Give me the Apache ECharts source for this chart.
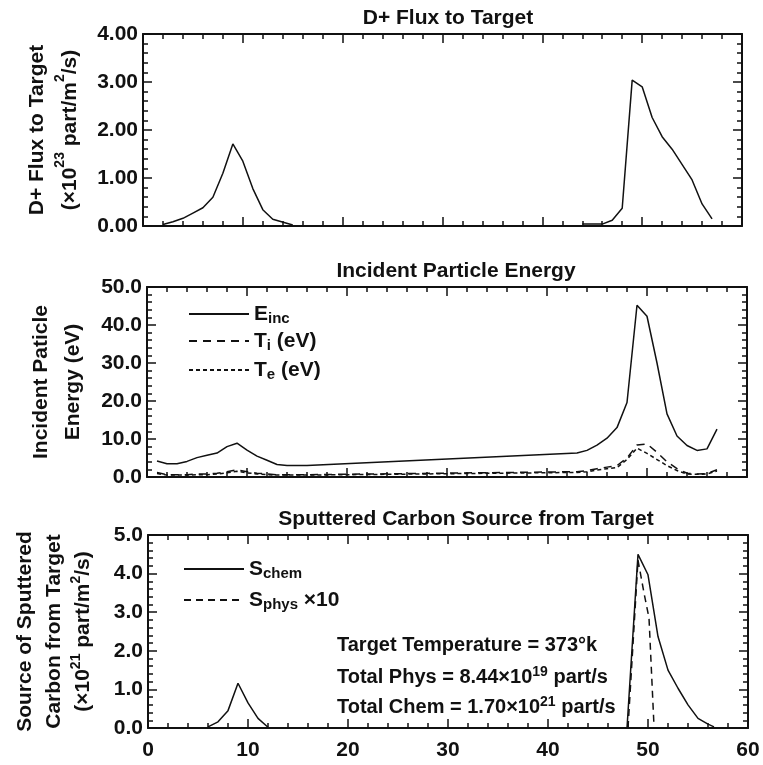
<!DOCTYPE html>
<html>
<head>
<meta charset="utf-8">
<script src="https://cdn.jsdelivr.net/npm/echarts@6/dist/echarts.min.js"></script>
<style>
  html, body { margin: 0; padding: 0; background: #fff; }
  #chart { width: 763px; height: 765px; }
</style>
</head>
<body>
<div id="chart"></div>
<script>
// panel 1: D+ flux (x10^23 part/m2/s), inner and outer target
var fluxInX = [2, 3, 4, 5, 6, 7, 8, 9, 10, 11, 12, 13, 15];
var fluxInY = [0.03, 0.09, 0.16, 0.27, 0.38, 0.6, 1.1, 1.71, 1.35, 0.78, 0.34, 0.14, 0.02];
var fluxOutX = [44, 45, 46, 47, 48, 49, 50, 51, 52, 53, 55, 56, 57];
var fluxOutY = [0.04, 0.04, 0.04, 0.12, 0.37, 3.04, 2.9, 2.26, 1.86, 1.6, 0.96, 0.46, 0.15];

// panel 2: incident energy (eV)
var energyX = [1, 2, 3, 4, 5, 6, 7, 8, 9, 10, 11, 12, 13, 14, 16, 43, 44, 45, 46, 47, 48, 49, 50, 51, 52, 53, 54, 55, 56, 57];
var eInc = [4.2, 3.5, 3.5, 4.1, 5.1, 5.7, 6.3, 8.0, 8.9, 7.1, 5.5, 4.4, 3.3, 3.0, 3.0, 6.3, 7.0, 8.4, 10.2, 13.0, 19.6, 45.2, 42.3, 30.0, 16.6, 10.8, 8.3, 7.0, 7.4, 12.6];
var tIon = [1.2, 0.6, 0.6, 0.6, 0.8, 0.8, 1.0, 1.4, 1.9, 1.4, 1.0, 0.8, 0.6, 0.6, 0.6, 1.4, 1.7, 2.2, 2.6, 3.0, 5.0, 8.4, 8.7, 6.5, 4.0, 2.2, 1.0, 0.8, 0.9, 1.9];
var tEl = [0.9, 0.5, 0.5, 0.5, 0.6, 0.6, 0.8, 1.1, 1.5, 1.1, 0.8, 0.6, 0.5, 0.5, 0.5, 1.2, 1.4, 1.8, 2.2, 2.5, 4.6, 7.6, 6.2, 4.6, 3.0, 1.7, 0.8, 0.7, 0.8, 1.6];

// panel 3: sputtered carbon source (x10^21 part/m2/s)
var chemInX = [6, 7, 8, 9, 10, 11, 12];
var chemInY = [0.03, 0.16, 0.45, 1.16, 0.65, 0.25, 0.02];
var chemOutX = [47.9, 49, 50, 51, 52, 53, 54, 55, 56, 56.6];
var chemOutY = [0, 4.5, 3.97, 2.37, 1.5, 1.03, 0.6, 0.25, 0.1, 0.03];
var physX = [48, 49, 49.6, 50.1, 50.6];
var physY = [0, 4.35, 3.5, 2.85, 0.05];

var FONT = '"Liberation Sans", Arial, Helvetica, sans-serif';
var INK = '#111';

function pairs(xs, ys) {
  return xs.map(function (x, i) { return [x, ys[i]]; });
}

var grids = [
  {left: 143, top: 34, width: 599, height: 192},
  {left: 147, top: 287, width: 600, height: 190},
  {left: 148, top: 535, width: 600, height: 193}
];

var labelFont = {color: INK, fontFamily: FONT, fontWeight: 'bold', fontSize: 21};

function axisBase(extra) {
  return Object.assign({
    type: 'value',
    axisLine: {show: true, onZero: false, lineStyle: {color: INK, width: 2}},
    axisTick: {show: true, inside: true, length: 9, lineStyle: {color: INK, width: 1.5}},
    minorTick: {show: true, splitNumber: 5, length: 5, lineStyle: {color: INK, width: 1.5}},
    splitLine: {show: false},
    axisLabel: {show: false}
  }, extra);
}

var xAxes = [];
var yAxes = [];
var yMax = [4, 50, 5];
var yInt = [1, 10, 1];
var yDec = [2, 1, 1];
var supStyle = {fontSize: 14, fontWeight: 'bold', fontFamily: FONT, color: INK, verticalAlign: 'top', lineHeight: 20};
var yNames = [
  'D+ Flux to Target\n(×10{u|23} part/m{u|2}/s)',
  'Incident Paticle\nEnergy (eV)',
  'Source of Sputtered\nCarbon from Target\n(×10{u|21} part/m{u|2}/s)'
];
var yGaps = [45, 58, 50];
var yLineH = [33, 32, 29];

for (var g = 0; g < 3; g++) {
  xAxes.push(axisBase({
    gridIndex: g, position: 'bottom', min: 0, max: 60, interval: 10,
    axisLabel: g === 2 ? Object.assign({show: true, margin: 12}, labelFont) : {show: false}
  }));
  xAxes.push(axisBase({gridIndex: g, position: 'top', min: 0, max: 60, interval: 10}));
  (function (dec) {
    yAxes.push(axisBase({
      gridIndex: g, position: 'left', min: 0, max: yMax[g], interval: yInt[g],
      axisLabel: Object.assign({show: true, margin: 5, formatter: function (v) { return v.toFixed(dec); }}, labelFont),
      name: yNames[g], nameLocation: 'middle', nameGap: yGaps[g],
      nameTextStyle: Object.assign({lineHeight: yLineH[g], rich: {u: supStyle}}, labelFont)
    }));
  })(yDec[g]);
  yAxes.push(axisBase({gridIndex: g, position: 'right', min: 0, max: yMax[g], interval: yInt[g]}));
}

function lineSeries(name, xi, data, type) {
  return {
    name: name, type: 'line', xAxisIndex: xi, yAxisIndex: xi, data: data,
    symbol: 'none', silent: true, animation: false, color: INK,
    itemStyle: {color: INK},
    lineStyle: {color: INK, width: 1.5, type: type || 'solid'}
  };
}

var DASH = [8, 6];
var DOT = [4, 3];

var series = [
  lineSeries('fluxIn', 0, pairs(fluxInX, fluxInY)),
  lineSeries('fluxOut', 0, pairs(fluxOutX, fluxOutY)),
  lineSeries('Einc', 2, pairs(energyX, eInc)),
  lineSeries('Ti', 2, pairs(energyX, tIon), DASH),
  lineSeries('Te', 2, pairs(energyX, tEl), DOT),
  lineSeries('Schem', 4, pairs(chemInX, chemInY)),
  lineSeries('SchemOut', 4, pairs(chemOutX, chemOutY)),
  lineSeries('Sphys', 4, pairs(physX, physY), [7, 5])
];

var legendText = {
  Einc: '{m|E}{s|inc}',
  Ti: '{m|T}{s|i}{m| (eV)}',
  Te: '{m|T}{s|e}{m| (eV)}',
  Schem: '{m|S}{s|chem}',
  Sphys: '{m|S}{s|phys}{m| ×10}'
};
var legendRich = {
  m: {fontSize: 21, fontWeight: 'bold', fontFamily: FONT, color: INK, lineHeight: 24},
  s: {fontSize: 15, fontWeight: 'bold', fontFamily: FONT, color: INK, verticalAlign: 'bottom', lineHeight: 10}
};
function legendItem(name, left, cy) {
  return {
    data: [name], left: left, top: cy - 15, itemWidth: 60, itemHeight: 30, itemGap: 0,
    padding: 0, selectedMode: false,
    itemStyle: {color: 'rgba(0,0,0,0)', borderWidth: 0, opacity: 0},
    textStyle: {color: INK, fontFamily: FONT, fontWeight: 'bold', fontSize: 21, rich: legendRich},
    formatter: function (n) { return legendText[n]; }
  };
}

var supRich = {u: {fontSize: 14, fontWeight: 'bold', fontFamily: FONT, color: INK, verticalAlign: 'top', lineHeight: 14}};
function note(text, cy) {
  return {
    text: text, left: 337, top: cy - 12, padding: 0,
    textStyle: {color: INK, fontFamily: FONT, fontWeight: 'bold', fontSize: 20, lineHeight: 24, rich: supRich}
  };
}

function heading(text, cx, cy) {
  return {
    type: 'text', x: cx, y: cy, silent: true,
    style: {text: text, fill: INK, font: 'bold 21px ' + FONT, align: 'center', textAlign: 'center', verticalAlign: 'middle', textVerticalAlign: 'middle'}
  };
}

var chart = echarts.init(document.getElementById('chart'), null, {renderer: 'canvas'});
chart.setOption({
  animation: false,
  backgroundColor: '#fff',
  grid: grids,
  xAxis: xAxes,
  yAxis: yAxes,
  series: series,
  legend: [
    legendItem('Einc', 188, 317),
    legendItem('Ti', 188, 344),
    legendItem('Te', 188, 373),
    legendItem('Schem', 183, 572),
    legendItem('Sphys', 183, 603)
  ],
  title: [
    note('Target Temperature = 373°k', 645),
    note('Total Phys = 8.44×10{u|19} part/s', 677),
    note('Total Chem = 1.70×10{u|21} part/s', 707)
  ],
  graphic: [
    heading('D+ Flux to Target', 448, 18),
    heading('Incident Particle Energy', 456, 271),
    heading('Sputtered Carbon Source from Target', 466, 519)
  ]
});
</script>
</body>
</html>
